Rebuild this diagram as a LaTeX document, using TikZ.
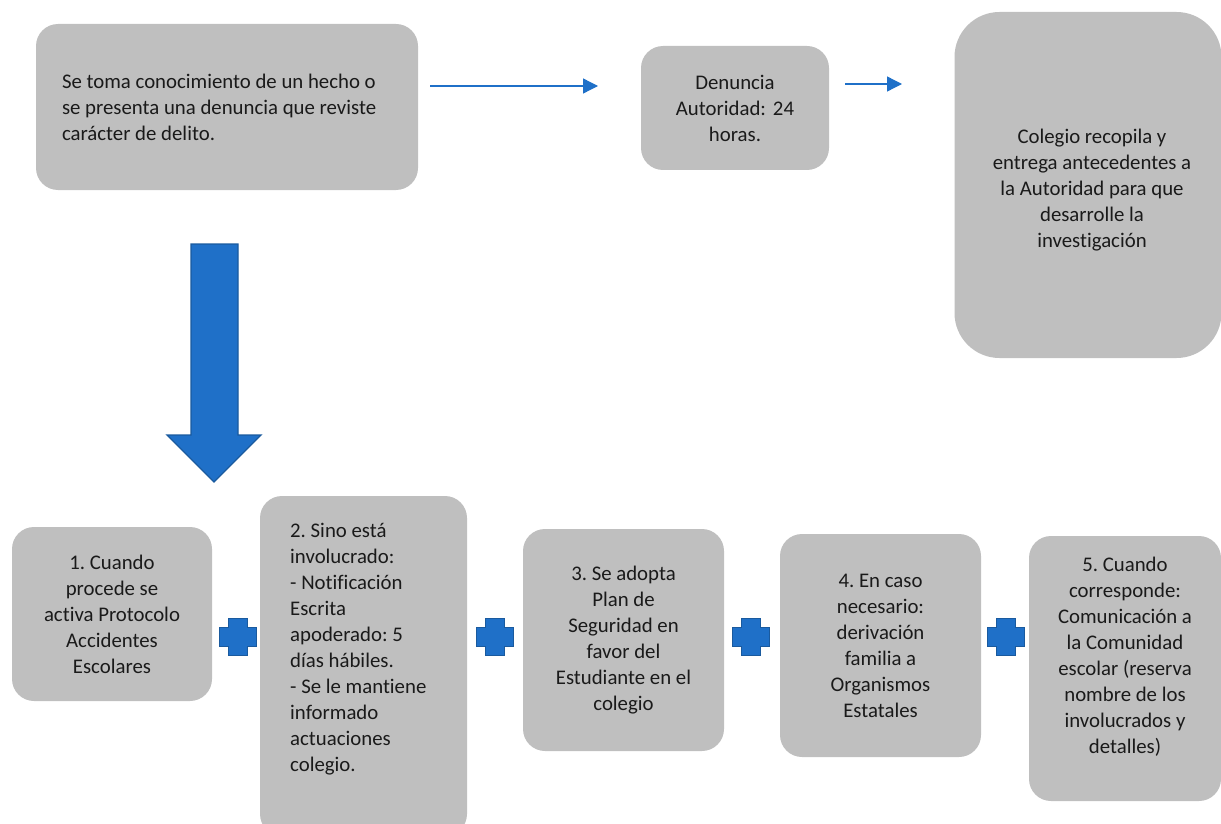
\documentclass[tikz,border=0pt]{standalone}
\usepackage{fontspec}
\setmainfont{Carlito}[Ligatures={NoCommon}]
\usetikzlibrary{arrows.meta}
\definecolor{boxgray}{HTML}{BFBFBF}
\definecolor{blueA}{HTML}{1F70C8}
\definecolor{blueB}{HTML}{1A5A9E}
\definecolor{textc}{HTML}{1A1A1A}
\begin{document}
\begin{tikzpicture}[x=1pt,y=-1pt,
  txt/.style={font=\fontsize{20.8}{26}\selectfont\frenchspacing,text=textc},
  box/.style={fill=boxgray,draw=none,rounded corners=22pt,inner sep=0pt,txt},
  thinarrow/.style={draw=blueA,line width=1.3pt,-{Triangle[length=15pt,width=15pt]}},
  plusshape/.style={fill=blueA,draw=blueB,line width=1.2pt}
]
\useasboundingbox (0,0) rectangle (1221,824);
% top boxes
\node[box,minimum width=382pt,minimum height=166pt,text width=330pt,align=flush left] (a) at (227,107)
  {Se toma conocimiento de un hecho o\\se presenta una denuncia que reviste\\carácter de delito.};
\node[box,minimum width=188pt,minimum height=124pt,text width=170pt,align=center] (b) at (735,108)
  {Denuncia\\Autoridad: 24\\horas.};
\node[box,rounded corners=45pt,minimum width=267pt,minimum height=346pt] (c) at (1088,185) {};
\node[txt,align=center] (ct) at (1092,190)
  {Colegio recopila y\\entrega antecedentes a\\la Autoridad para que\\desarrolle la\\investigación};
% thin arrows
\coordinate (a1s) at (430,86);
\coordinate (a1e) at (598,86);
\coordinate (a2s) at (845,84);
\coordinate (a2e) at (902,84);
\draw[thinarrow] (a1s) -- (a1e);
\draw[thinarrow] (a2s) -- (a2e);
% big down arrow
\draw[fill=blueA,draw=blueB,line width=1.4pt] (191,244) -- (238,244) -- (238,435) -- (261,435)
  -- (214,482) -- (167,435) -- (191,435) -- cycle;
% bottom boxes
\node[box,minimum width=200pt,minimum height=174pt,align=center] (s1) at (112,614)
  {1. Cuando\\procede se\\activa Protocolo\\Accidentes\\Escolares};
\node[box,minimum width=207pt,minimum height=340pt] (s2) at (363.5,666) {};
\node[txt,align=left,anchor=north west,inner sep=0pt] (s2t) at (290,523)
  {2. Sino está\\involucrado:\\- Notificación\\Escrita\\apoderado: 5\\días hábiles.\\- Se le mantiene\\informado\\actuaciones\\colegio.};
\node[box,minimum width=201pt,minimum height=222pt,align=center] (s3) at (623.5,640)
  {3. Se adopta\\Plan de\\Seguridad en\\favor del\\Estudiante en el\\colegio};
\node[box,minimum width=201pt,minimum height=223pt,align=center] (s4) at (880.5,645.5)
  {4. En caso\\necesario:\\derivación\\familia a\\Organismos\\Estatales};
\node[box,minimum width=192pt,minimum height=265pt] (s5) at (1125,668.5) {};
\node[txt,align=center] (s5t) at (1125,657)
  {5. Cuando\\corresponde:\\Comunicación a\\la Comunidad\\escolar (reserva\\nombre de los\\involucrados y\\detalles)};
% plus signs
\foreach \cx/\nm in {238/p1,495/p2,751/p3,1006/p4}{
  \draw[plusshape] (\cx-9.5,618.5) -- (\cx+9.5,618.5) -- (\cx+9.5,627.5) -- (\cx+18.5,627.5)
    -- (\cx+18.5,646.5) -- (\cx+9.5,646.5) -- (\cx+9.5,655.5) -- (\cx-9.5,655.5)
    -- (\cx-9.5,646.5) -- (\cx-18.5,646.5) -- (\cx-18.5,627.5) -- (\cx-9.5,627.5) -- cycle;
}
\end{tikzpicture}
\end{document}
